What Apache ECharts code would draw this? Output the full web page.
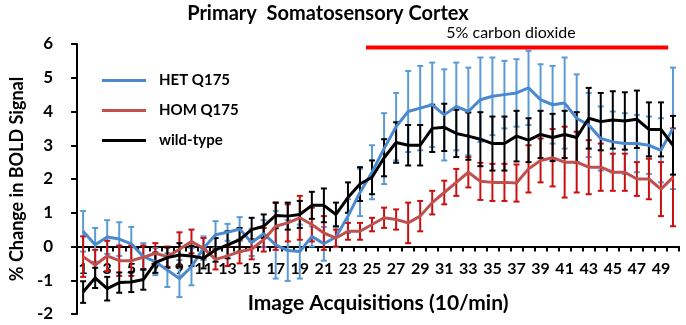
<!DOCTYPE html>
<html>
<head>
<meta charset="utf-8">
<script src="https://cdn.jsdelivr.net/npm/echarts@6/dist/echarts.min.js"></script>
<style>
  html, body { margin: 0; padding: 0; background: #fff; }
  #chart { width: 686px; height: 325px; }
</style>
</head>
<body>
<div id="chart"></div>
<script>
// image acquisitions (10/min)
const acquisitions = ['1','2','3','4','5','6','7','8','9','10','11','12','13','14','15','16','17','18','19','20',
  '21','22','23','24','25','26','27','28','29','30','31','32','33','34','35','36','37','38','39','40',
  '41','42','43','44','45','46','47','48','49','50'];

// % change in BOLD signal, HET Q175
const hetMean = [0.45,0.05,0.28,0.22,0.08,-0.3,-0.45,-0.7,-0.95,-0.6,-0.05,0.35,0.42,0.52,0.12,0.38,0.05,-0.12,-0.15,0.3,
  0.08,0.28,0.9,1.6,2.2,2.9,3.55,4.0,4.1,4.2,3.9,4.15,4.0,4.35,4.45,4.5,4.55,4.7,4.35,4.2,
  4.25,3.8,3.6,3.2,3.1,3.05,3.05,3.0,2.85,3.5];
const hetErr = [0.6,0.5,0.5,0.5,0.5,0.4,0.4,0.5,0.55,0.55,0.35,0.4,0.25,0.35,0.4,0.4,1.0,0.9,0.8,0.3,
  0.5,0.3,0.5,0.7,0.8,1.05,1.0,1.2,1.25,1.25,1.35,1.3,1.3,1.25,1.15,1.0,1.0,1.1,1.05,1.15,
  1.35,1.3,0.95,0.95,0.9,0.9,0.85,0.85,0.95,1.8];

// HOM Q175
const homMean = [-0.3,-0.55,-0.28,-0.42,-0.42,-0.32,-0.2,-0.3,-0.08,0.15,-0.05,-0.38,-0.28,-0.15,-0.08,0.2,0.6,0.7,0.85,0.65,
  0.4,0.25,0.45,0.45,0.65,0.85,0.8,0.7,0.9,1.3,1.6,1.9,2.2,1.93,1.9,1.9,1.88,2.3,2.55,2.63,
  2.5,2.5,2.35,2.35,2.2,2.2,2.0,2.0,1.7,2.05];
const homErr = [0.6,0.45,0.45,0.45,0.45,0.35,0.3,0.3,0.5,0.35,0.3,0.3,0.3,0.35,0.3,0.35,0.7,0.55,0.65,0.5,
  0.5,0.25,0.25,0.25,0.2,0.3,0.3,0.6,0.45,0.35,0.35,0.4,0.45,0.55,0.55,0.55,0.55,0.7,0.65,0.85,
  1.05,0.9,0.8,0.7,0.55,0.55,0.5,0.6,0.8,1.45];

// wild-type
const wtMean = [-1.35,-0.93,-1.25,-1.07,-1.05,-0.98,-0.48,-0.33,-0.25,-0.28,-0.35,-0.1,0.05,0.2,0.5,0.6,0.92,0.9,0.95,1.22,
  1.22,0.95,1.45,1.85,2.05,2.63,3.08,3.0,3.0,3.5,3.53,3.35,3.27,3.18,3.05,3.05,3.27,3.15,3.32,3.23,
  3.32,3.23,3.8,3.7,3.75,3.72,3.77,3.47,3.47,3.0];
const wtErr = [0.32,0.3,0.35,0.3,0.3,0.3,0.3,0.3,0.35,0.3,0.3,0.35,0.4,0.35,0.35,0.35,0.38,0.4,0.4,0.4,
  0.5,0.35,0.45,0.5,0.5,0.55,0.6,0.6,0.6,0.7,0.7,0.7,0.7,0.8,0.8,0.8,0.75,0.65,0.7,0.7,
  0.7,0.75,0.9,0.85,0.85,0.85,0.85,0.8,0.8,0.87];

// CO2 period bar (in acquisition units on a 0..50 scale) and its height
const co2Span = [24.0, 49.1];
const co2Level = 5.9;

const yMin = -2, yMax = 6;
const FONT = 'Lato';
const GRID_TOP = 44, GRID_H = 270;
const chart = echarts.init(document.getElementById('chart'), null, { renderer: 'canvas' });

function errorBars(vals, errs, color) {
  return {
    type: 'custom',
    silent: true,
    z: 1,
    data: vals.map((v, i) => [i, v - errs[i], v + errs[i]]),
    encode: { x: 0, y: [1, 2] },
    renderItem: function (params, api) {
      const lo = api.coord([api.value(0), api.value(1)]);
      const hi = api.coord([api.value(0), api.value(2)]);
      const cap = 3;
      const st = { stroke: color, lineWidth: 2 };
      return {
        type: 'group',
        children: [
          { type: 'line', shape: { x1: hi[0], y1: hi[1], x2: lo[0], y2: lo[1] }, style: st },
          { type: 'line', shape: { x1: hi[0] - cap, y1: hi[1], x2: hi[0] + cap, y2: hi[1] }, style: st },
          { type: 'line', shape: { x1: lo[0] - cap, y1: lo[1], x2: lo[0] + cap, y2: lo[1] }, style: st }
        ]
      };
    }
  };
}

function meanLine(name, vals, color) {
  return {
    name: name,
    type: 'line',
    data: vals,
    symbol: 'none',
    z: 3,
    lineStyle: { color: color, width: 3 },
    itemStyle: { color: color }
  };
}

// x axis sits on y = 0: shift it up from the grid bottom
const xAxisOffset = -GRID_H * (0 - yMin) / (yMax - yMin);

chart.setOption({
  animation: false,
  backgroundColor: '#fff',
  grid: { left: 68, right: 7, top: GRID_TOP, height: GRID_H },
  graphic: [
    { type: 'text', x: 328, y: 14, style: { text: 'Primary  Somatosensory Cortex', font: 'bold 20px ' + FONT, fill: '#000', textAlign: 'center', textVerticalAlign: 'middle' } },
    { type: 'text', x: 511, y: 33, style: { text: '5% carbon dioxide', font: '16px ' + FONT, fill: '#000', textAlign: 'center', textVerticalAlign: 'middle' } }
  ],
  legend: {
    data: ['HET Q175', 'HOM Q175', 'wild-type'],
    orient: 'vertical',
    left: 97,
    top: 68,
    icon: 'rect',
    itemWidth: 44,
    itemHeight: 3,
    itemGap: 15,
    textStyle: { fontFamily: FONT, fontWeight: 'bold', fontSize: 15, color: '#000', padding: [0, 0, 0, 8] }
  },
  xAxis: [
    {
      type: 'category',
      data: acquisitions,
      boundaryGap: true,
      position: 'bottom',
      offset: xAxisOffset,
      name: 'Image Acquisitions (10/min)',
      nameLocation: 'middle',
      nameGap: 46,
      nameTextStyle: { fontFamily: FONT, fontWeight: 'bold', fontSize: 21, color: '#000' },
      axisLine: { onZero: false, lineStyle: { color: '#000', width: 2 } },
      axisTick: { show: true, interval: 0, length: 5, lineStyle: { color: '#000', width: 2 } },
      axisLabel: { interval: 1, margin: 14, fontFamily: FONT, fontWeight: 'bold', fontSize: 16, color: '#000' },
      splitLine: { show: false }
    },
    {
      type: 'value',
      min: 0,
      max: 50,
      show: false,
      axisLine: { onZero: false }
    }
  ],
  yAxis: {
    type: 'value',
    min: yMin,
    max: yMax,
    interval: 1,
    name: '% Change in BOLD Signal',
    nameLocation: 'middle',
    nameGap: 34,
    nameTextStyle: { fontFamily: FONT, fontWeight: 'bold', fontSize: 18, color: '#000' },
    axisLine: { show: true, onZero: false, lineStyle: { color: '#000', width: 2 } },
    axisTick: { show: true, length: 6, lineStyle: { color: '#000', width: 2 } },
    axisLabel: { margin: 24, fontFamily: FONT, fontWeight: 'bold', fontSize: 17, color: '#000' },
    splitLine: { show: false }
  },
  series: [
    errorBars(hetMean, hetErr, '#5b9bd5'),
    errorBars(homMean, homErr, '#c81010'),
    errorBars(wtMean, wtErr, '#000000'),
    meanLine('HET Q175', hetMean, '#4a89cf'),
    meanLine('HOM Q175', homMean, '#c0504d'),
    meanLine('wild-type', wtMean, '#000000'),
    {
      type: 'line',
      xAxisIndex: 1,
      silent: true,
      symbol: 'none',
      data: [[co2Span[0], co2Level], [co2Span[1], co2Level]],
      lineStyle: { color: '#ff0000', width: 4 },
      z: 4
    }
  ]
});
</script>
</body>
</html>
